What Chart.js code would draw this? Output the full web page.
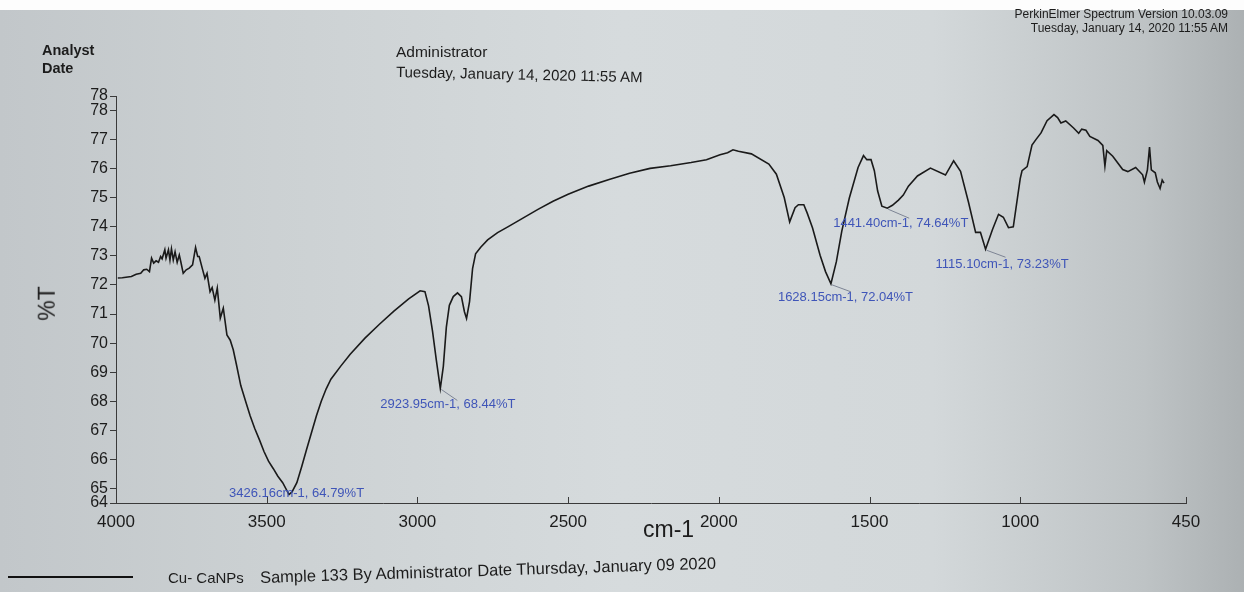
<!DOCTYPE html>
<html>
<head>
<meta charset="utf-8">
<script src="https://cdn.jsdelivr.net/npm/chart.js@4/dist/chart.umd.min.js"></script>
<style>
  html, body { margin:0; padding:0; }
  body { width:1244px; height:592px; overflow:hidden; font-family:"Liberation Sans", Arial, sans-serif; }
  #wrap { position:relative; width:1244px; height:592px;
    background: linear-gradient(to right, #c2c7ca 0%, #ccd1d3 22%, #d6dbdd 50%, #d3d8da 75%, #bec3c5 92%, #acb1b3 100%); }
  #topwhite { position:absolute; left:0; top:0; width:1244px; height:10px; background:#fdfdfd; }
  canvas { position:absolute; left:0; top:0; }
  .t { position:absolute; color:#1c1c1c; white-space:nowrap; line-height:1; }
</style>
</head>
<body>
<div id="wrap">
  <div id="topwhite"></div>
  <canvas id="c" width="1244" height="592"></canvas>
  <div class="t" style="left:42px;top:43px;font-size:14.5px;font-weight:bold;">Analyst</div>
  <div class="t" style="left:42px;top:61px;font-size:14.5px;font-weight:bold;">Date</div>
  <div class="t" style="left:396px;top:44px;font-size:15.5px;">Administrator</div>
  <div class="t" style="left:396px;top:64px;font-size:15px;transform:rotate(1.2deg);transform-origin:left center;">Tuesday, January 14, 2020 11:55 AM</div>
  <div class="t" style="right:16px;top:7px;font-size:12px;text-align:right;line-height:14px;">PerkinElmer Spectrum Version 10.03.09<br>Tuesday, January 14, 2020 11:55 AM</div>
  <div class="t" style="left:30px;top:292px;font-size:23px;transform:rotate(-90deg);transform-origin:center;">%T</div>
  <div class="t" style="left:643px;top:518px;font-size:23px;">cm-1</div>
  <div style="position:absolute;left:8px;top:576px;width:125px;height:2px;background:#111;"></div>
  <div class="t" style="left:168px;top:570px;font-size:15px;">Cu- CaNPs</div>
  <div class="t" style="left:260px;top:569px;font-size:16.5px;transform:rotate(-1.8deg);transform-origin:left center;">Sample 133 By Administrator Date Thursday, January 09 2020</div>
</div>
<script>
// ---- data ----
const wavenumbers = [3994,3979,3949,3933,3918,3908,3898,3889,3882,3875,3867,3859,3852,3847,3838,3834,3826,3821,3816,3810,3804,3797,3790,3785,3777,3767,3757,3746,3736,3729,3724,3714,3705,3698,3688,3681,3672,3664,3654,3644,3632,3621,3611,3601,3586,3570,3555,3540,3524,3509,3494,3478,3463,3447,3426,3416,3400,3384,3368,3352,3335,3319,3303,3287,3255,3223,3174,3126,3078,3029,2991,2975,2963,2950,2937,2924,2914,2904,2894,2881,2867,2854,2844,2837,2827,2817,2807,2790,2767,2734,2700,2650,2600,2550,2500,2432,2364,2296,2228,2160,2092,2041,1996,1971,1953,1935,1892,1834,1809,1783,1765,1747,1736,1718,1707,1689,1664,1646,1628,1610,1592,1567,1538,1520,1509,1495,1484,1473,1459,1441,1424,1404,1388,1371,1341,1298,1248,1221,1198,1172,1148,1132,1115,1092,1072,1056,1039,1023,1000,994,977,961,948,931,911,888,876,865,849,823,806,796,782,769,742,726,719,713,693,660,643,617,594,588,578,571,565,552,545,536,529,523];
const transmittance = [72.24,72.25,72.29,72.37,72.40,72.52,72.54,72.46,72.92,72.75,72.83,72.78,72.98,72.90,73.21,72.92,73.21,72.86,73.24,72.86,73.14,72.78,73.03,72.80,72.40,72.52,72.58,72.69,73.29,72.98,72.98,72.58,72.23,72.40,71.77,71.91,71.48,71.89,70.86,71.20,70.28,70.10,69.77,69.29,68.54,68.00,67.50,67.07,66.67,66.27,65.94,65.68,65.42,65.20,64.79,64.88,65.20,65.75,66.33,66.90,67.50,68.00,68.42,68.76,69.20,69.62,70.17,70.65,71.10,71.52,71.80,71.77,71.28,70.42,69.40,68.44,69.20,70.55,71.30,71.60,71.73,71.60,71.08,70.85,71.43,72.56,73.07,73.30,73.55,73.80,74.00,74.30,74.60,74.88,75.12,75.40,75.63,75.84,76.01,76.10,76.21,76.31,76.48,76.55,76.65,76.60,76.51,76.16,75.81,75.01,74.17,74.66,74.76,74.76,74.48,73.96,73.02,72.46,72.04,72.80,73.85,74.99,76.04,76.45,76.31,76.31,75.93,75.23,74.71,74.64,74.74,74.92,75.09,75.40,75.75,76.02,75.78,76.27,75.91,74.86,73.81,73.81,73.23,73.91,74.43,74.33,73.97,74.00,75.66,75.93,76.07,76.81,77.00,77.23,77.65,77.86,77.76,77.57,77.64,77.40,77.22,77.36,77.32,77.11,76.97,76.80,76.09,76.62,76.43,75.97,75.90,76.04,75.79,75.54,75.96,76.74,75.96,75.86,75.54,75.32,75.61,75.50];

const xTickValues = [4000,3500,3000,2500,2000,1500,1000,450];
const yTickValues = [64.5,65,66,67,68,69,70,71,72,73,74,75,76,77,78,78.5];

const peakWavenumbers = [3426.16, 2923.95, 1628.15, 1441.40, 1115.10];
const peakValues      = [64.79, 68.44, 72.04, 74.64, 73.23];
const peakLabels = ["3426.16cm-1, 64.79%T","2923.95cm-1, 68.44%T","1628.15cm-1, 72.04%T","1441.40cm-1, 74.64%T","1115.10cm-1, 73.23%T"];
// label placement offsets (styling only)
const peakStyle = [
  {lead:null, tx:-60, ty:-1},
  {lead:[17,12], tx:-60, ty:16},
  {lead:[20,8], tx:-53, ty:14},
  {lead:[22,10], tx:-54, ty:15},
  {lead:[20,8], tx:-50, ty:15}
];

const points = wavenumbers.map((w,i)=>({x:w, y:transmittance[i]}));

const annotPlugin = {
  id:'annot',
  afterDatasetsDraw(chart){
    const ctx = chart.ctx, xs = chart.scales.x, ys = chart.scales.y;
    ctx.save();
    // inward (upward) x ticks
    ctx.strokeStyle = '#3a3a3a'; ctx.lineWidth = 1;
    xTickValues.forEach(v=>{
      const px = Math.round(xs.getPixelForValue(v))+0.5;
      ctx.beginPath(); ctx.moveTo(px, ys.bottom); ctx.lineTo(px, ys.bottom-6); ctx.stroke();
    });
    ctx.font = '13px "Liberation Sans", Arial, sans-serif';
    ctx.textBaseline = 'middle';
    peakWavenumbers.forEach((w,i)=>{
      const px = xs.getPixelForValue(w), py = ys.getPixelForValue(peakValues[i]);
      const st = peakStyle[i];
      if (st.lead){
        ctx.strokeStyle = '#7d8494'; ctx.lineWidth = 1;
        ctx.beginPath(); ctx.moveTo(px+1, py+1); ctx.lineTo(px+st.lead[0], py+st.lead[1]); ctx.stroke();
      }
      ctx.fillStyle = '#3f55b8';
      ctx.fillText(peakLabels[i], px+st.tx, py+st.ty);
    });
    ctx.restore();
  }
};

new Chart(document.getElementById('c'), {
  type:'line',
  data:{ datasets:[{ data:points, borderColor:'#1a1a1a', borderWidth:1.6, pointRadius:0, tension:0, fill:false }]},
  options:{
    responsive:false, animation:false, devicePixelRatio:1,
    layout:{ padding:{ top:96, right:58, left:0, bottom:0 } },
    plugins:{ legend:{display:false}, tooltip:{enabled:false} },
    scales:{
      x:{ type:'linear', reverse:true, min:450, max:4000,
        afterBuildTicks:s=>{ s.ticks = xTickValues.map(v=>({value:v})); },
        afterFit:s=>{ s.height = 89; },
        grid:{ display:false },
        border:{ display:true, color:'#3a3a3a', width:1 },
        ticks:{ autoSkip:false, maxRotation:0, padding:1, color:'#1c1c1c',
          font:{ family:'"Liberation Sans", Arial, sans-serif', size:17 },
          callback:v=>String(v) }
      },
      y:{ type:'linear', min:64.5, max:78.5,
        afterBuildTicks:s=>{ s.ticks = yTickValues.map(v=>({value:v})); },
        afterFit:s=>{ s.width = 116; },
        grid:{ drawOnChartArea:false, drawTicks:true, tickLength:6, color:'#3a3a3a' },
        border:{ display:true, color:'#3a3a3a', width:1 },
        ticks:{ autoSkip:false, padding:2, color:'#1c1c1c',
          font:{ family:'"Liberation Sans", Arial, sans-serif', size:16 },
          callback:v=>String(Math.floor(v)) }
      }
    }
  },
  plugins:[annotPlugin]
});
</script>
</body>
</html>
